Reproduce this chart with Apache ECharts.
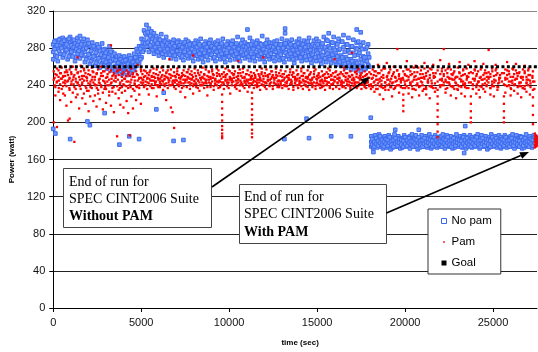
<!DOCTYPE html>
<html>
<head>
<meta charset="utf-8">
<script src="https://cdn.jsdelivr.net/npm/echarts@6/dist/echarts.min.js"></script>
<style>html,body{margin:0;padding:0;background:#fff}#c{width:538px;height:352px}</style>
</head>
<body>
<div id="c"></div>
<script>
// ---------- DATA (time in sec, power in watt) ----------
const xTicks = [0, 5000, 10000, 15000, 20000, 25000];
const yTicks = [0, 40, 80, 120, 160, 200, 240, 280, 320];
const seriesNames = ['No pam', 'Pam', 'Goal'];

// No pam: rows of [time, value, value, ...]
const noPamRun = [
[0,268,276,284,193],[120,272,281,288,188],[260,266,279,286],[400,274,283,290],[540,270,285,291],
[680,276,282,289],[820,268,279,287],[960,273,286,292,182],[1100,271,280,288],[1240,266,277,285],
[1380,274,283,291],[1520,269,281,293],[1660,272,278,287],[1800,265,276,284],[1940,270,282,289,201],
[2080,263,274,283,197],[2220,268,279,286],[2360,261,272,281],[2500,266,277,284],[2640,259,270,280],
[2780,264,275,285],[2920,262,271,279,210],[3060,258,268,277],[3200,263,272,282],[3340,256,266,276],
[3480,260,269,274],[3620,254,263,271],[3760,258,266,272,176],[3900,252,262,270],[4040,257,265,271],
[4180,251,260,268],[4320,255,264,272,185],[4460,253,261,269],[4600,258,266,274],[4740,261,270,279],
[4880,264,274,282,182],[5020,270,281,290],[5160,278,289,299],[5300,282,294,305],[5440,276,288,301],
[5580,280,292,298],[5720,274,285,296],[5860,277,284,293,214],[6000,272,281,290],[6140,275,286,295],
[6280,270,279,288,232],[6420,273,283,292],[6560,276,281,287],[6700,269,278,286],[6840,272,280,289,180],
[6980,268,277,285],[7120,274,282,288],[7260,270,279,286],[7400,267,276,284,181],[7540,273,281,289],
[7680,269,278,287],[7820,271,280,285],[7960,266,275,283],[8100,272,281,288],[8240,268,277,286],
[8380,270,279,290],[8520,265,274,283],[8660,271,280,287],[8800,267,276,285],[8940,273,282,289],
[9080,269,278,284],[9220,266,276,286],[9360,272,280,288],[9500,268,277,283],[9640,270,279,290],
[9780,265,274,282],[9920,271,281,287],[10060,267,276,285],[10200,273,279,288],[10340,268,277,284],
[10480,270,280,292],[10620,266,275,283],[10760,272,281,289],[10900,269,278,286],[11040,271,276,284,300],
[11180,267,279,291],[11320,270,280,287],[11460,266,274,283],[11600,272,282,288],[11740,268,277,285],
[11880,270,279,293],[12020,265,275,284],[12160,271,281,289],[12300,268,277,286],[12440,270,278,285],
[12580,266,276,287],[12720,272,281,288],[12860,267,275,284],[13000,269,279,290],[13140,265,276,285,182],
[13180,301,296],[13280,271,282,288],[13420,268,277,286],[13560,270,280,289],[13700,264,274,283],
[13840,269,278,287],[13980,271,281,290],[14120,266,276,285],[14260,270,279,288],[14400,267,277,286,204],
[14540,272,283,291,183],[14680,264,274,282],[14820,269,279,288],[14960,266,277,290],[15100,271,281,287],
[15240,263,273,284],[15380,268,279,292],[15520,265,276,289],[15660,270,282,296],[15800,264,275,286,185],
[15940,269,280,292],[16080,262,273,285],[16220,267,278,290],[16360,261,272,287],[16500,266,281,294],
[16640,259,270,284],[16780,264,277,291],[16920,257,268,282,185],[17060,262,275,289],[17200,256,266,280],
[17250,300,286],[17340,261,273,287],[17480,255,268,283,297],[17620,260,271,286],[17760,258,266,279],
[17900,262,274,284],[18050,205]
];
const noPamRunB = [
[70,279,287],[210,271,283],[330,277,289],[470,280,286],[610,273,288],[750,278,284],[890,271,290],[1030,276,283],
[1170,281,289],[1310,270,279],[1450,277,287],[1590,273,284],[1730,279,290],[1870,268,280],[2010,273,285],[2150,266,277],
[2290,271,282],[2430,264,275],[2570,269,281],[2710,262,273],[2850,267,278],[2990,265,275],[3130,261,270],[3270,266,276],
[3410,259,268],[3550,257,267],[3690,256,264],[3830,260,268],[3970,254,266],[4110,259,267],[4250,257,263],[4390,260,269],
[4530,256,265],[4670,262,270],[4810,266,276],[4950,268,279],[5090,276,286],[5230,285,296],[5370,286,297],[5510,283,293],
[5650,278,290],[5790,281,288],[5930,276,285],[6070,279,289],[6210,274,284],[6350,277,287],[6490,279,285],[6630,273,283],
[6770,276,285],[6910,272,282],[7050,277,286],[7190,273,283],[7330,271,281],[7470,276,286],[7610,272,283],[7750,275,284],
[7890,270,279],[8030,276,285],[8170,272,281],[8310,274,284],[8450,269,278],[8590,275,284],[8730,271,281],[8870,277,285],
[9010,273,282],[9150,270,280],[9290,276,284],[9430,272,281],[9570,274,285],[9710,269,278],[9850,275,284],[9990,271,280],
[10130,276,284],[10270,272,281],[10410,274,285],[10550,270,279],[10690,276,285],[10830,273,282],[10970,274,281],[11110,271,283],
[11250,274,284],[11390,270,279],[11530,276,285],[11670,272,281],[11810,274,284],[11950,269,279],[12090,275,285],[12230,272,281],
[12370,274,282],[12510,270,281],[12650,276,284],[12790,271,280],[12930,273,284],[13070,269,280],[13210,275,285],[13350,272,281],
[13490,274,284],[13630,268,278],[13770,273,283],[13910,275,285],[14050,270,280],[14190,274,284],[14330,271,281],[14470,276,287],
[14610,268,278],[14750,273,284],[14890,270,282],[15030,275,284],[15170,267,278],[15310,272,285],[15450,269,281],[15590,274,288],
[15730,268,280],[15870,273,286],[16010,266,278],[16150,271,284],[16290,265,279],[16430,270,287],[16570,263,276],[16710,268,284],
[16850,261,275],[16990,266,282],[17130,260,272],[17270,264,279],[17410,259,275],[17550,264,279],[17690,257,270],[17830,266,281],
[17960,260,270]
];
const noPamIdle = [
[18080,174,179,185],[18190,177,182,172],[18200,168],[18300,175,180,186],[18410,173,178,183],[18520,176,181,187],
[18630,174,184,179],[18740,172,177,182],[18850,175,180,185],[18960,178,183,173],[19070,174,179,186],
[19180,176,181,171],[19290,173,178,184],[19400,175,182,187],[19440,192],[19510,177,180,174],[19620,174,179,185],
[19730,176,183,172],[19840,173,178,181],[19950,175,180,186],[20060,174,182,177],[20170,176,179,184],
[20280,172,178,185],[20390,175,181,187],[20500,177,183,174],[20610,174,179,186],[20720,176,180,171],
[20780,192],[20830,173,178,184],[20940,175,182,186],[21050,174,177,181],[21160,176,180,185],[21270,173,179,183],
[21380,175,181,187],[21490,177,184,172],[21600,174,178,182],[21710,176,180,186],[21820,173,179,184],
[21930,175,182,175],[22040,174,177,185],[22150,176,181,187],[22260,172,178,183],[22370,175,180,186],
[22480,177,183,174],[22590,174,179,185],[22700,176,181,172],[22810,173,178,184],[22920,175,182,187],
[23030,174,180,176],[23140,176,179,185],[23250,173,178,183],[23360,175,181,186,167],[23420,196],[23470,177,184,172],
[23580,174,179,182],[23690,176,180,186],[23800,173,178,184],[23910,175,182,175],[24020,174,177,185],
[24130,176,181,187],[24240,172,179,183],[24350,175,180,186],[24460,177,183,174],[24570,174,178,185],
[24680,176,181,171],[24790,173,179,184],[24900,175,182,187],[25010,174,180,176],[25120,176,178,185],
[25230,173,179,183],[25340,175,181,186],[25450,177,184,172],[25560,174,178,182],[25670,176,180,186],
[25780,173,179,184],[25890,175,182,175],[26000,174,177,185],[26110,176,181,187],[26220,172,178,183],
[26330,175,180,186],[26440,177,183,174],[26550,174,179,185],[26660,176,181,172],[26770,173,178,184],
[26880,175,182,187],[26990,174,180,176],[27100,176,179,185],[27210,173,178,183],[27320,175,181,186],
[27430,177,184,180]
];
const noPamIdleB = [
[18135,176,182],[18245,179,174],[18355,177,183],[18465,175,180],[18575,178,185],[18685,176,181],[18795,174,179],
[18905,177,182],[19015,175,181],[19125,178,184],[19235,176,180],[19345,174,181],[19455,177,183],[19565,175,179],
[19675,178,182],[19785,176,181],[19895,174,180],[20005,177,184],[20115,175,181],[20225,178,183],[20335,176,180],
[20445,174,179],[20555,177,182],[20665,175,181],[20775,178,184],[20885,176,180],[20995,174,181],[21105,177,183],
[21215,175,179],[21325,178,182],[21435,176,181],[21545,174,180],[21655,177,184],[21765,175,181],[21875,178,183],
[21985,176,180],[22095,174,179],[22205,177,182],[22315,175,181],[22425,178,184],[22535,176,180],[22645,174,181],
[22755,177,183],[22865,175,179],[22975,178,182],[23085,176,181],[23195,174,180],[23305,177,184],[23415,175,181],
[23525,178,183],[23635,176,180],[23745,174,179],[23855,177,182],[23965,175,181],[24075,178,184],[24185,176,180],
[24295,174,181],[24405,177,183],[24515,175,179],[24625,178,182],[24735,176,181],[24845,174,180],[24955,177,184],
[25065,175,181],[25175,178,183],[25285,176,180],[25395,174,179],[25505,177,182],[25615,175,181],[25725,178,184],
[25835,176,180],[25945,174,181],[26055,177,183],[26165,175,179],[26275,178,182],[26385,176,181],[26495,174,180],
[26605,177,184],[26715,175,181],[26825,178,183],[26935,176,180],[27045,174,179],[27155,177,182],[27265,175,181],
[27375,178,184]
];

// Pam: rows of [time, value, value, ...]
const pamRun = [
[30,246,255,200],[120,238,252,229],[210,244,258,195],[300,233,249,256],[390,241,253,224],[480,236,247,259],
[570,243,250,231],[660,229,245,254],[750,239,256,218],[840,245,251,202],[930,235,248,257,204],[1020,241,254,222],
[1110,232,246,260],[1200,238,251,179],[1290,244,257,227],[1380,230,242,253,270],[1470,240,249,215],[1560,236,255,261],
[1650,243,247,226],[1740,231,250,258],[1830,239,253,220],[1920,245,248,234],[2010,234,256,212],[2100,241,251,228],
[2190,237,246,259],[2280,243,254,223],[2370,229,249,240],[2460,240,252,217],[2550,235,257,231],[2640,242,247,225],
[2730,238,253,260],[2820,232,250,214],[2910,244,255,236],[3000,236,248,221],[3090,240,252,258],[3180,233,246,229],
[3280,242,256,218,283],[3360,237,250,233],[3450,245,253,211],[3540,231,248,259],[3630,239,255,185],[3720,235,251,226],
[3810,243,257,219],[3900,238,249,232],[3990,241,254,216],[4080,234,247,260],[4170,244,256,223],[4260,237,252,210],
[4350,240,250,186],[4440,246,258,228],[4530,236,253,215],[4620,242,249,234],[4710,239,255,224],[4800,245,251,262],
[4890,237,248,230],[4980,243,257,220],
[5070,241,252,246],[5160,238,249,256],[5250,244,255,240],[5340,236,247,253],[5430,242,251,230],[5520,239,256,245],
[5610,245,249,237],[5700,237,253,258],[5790,243,248,241],[5880,240,257,228],[5970,246,251,238],[6060,238,254,244],
[6150,241,249,259],[6240,244,256,235],[6330,239,250,247],[6420,242,253,224],[6510,237,248,256],[6600,245,252,240,268],
[6690,240,257,216],[6780,243,250,211],[6870,238,254,245,194],[6960,246,249,236],[7050,241,255,258],[7140,239,251,243],
[7230,244,247,233],[7320,237,253,250],[7410,242,256,239],[7500,245,250,227],[7590,238,254,246],[7680,243,248,257],
[7770,240,252,236],[7860,246,255,242],[7950,239,249,231,272],[8040,244,253,258],[8130,241,247,238],[8220,237,256,245],
[8310,243,251,234],[8400,246,254,240],[8490,240,248,259],[8580,242,252,237],[8670,245,257,243],[8760,238,250,229],
[8850,243,254,246],[8940,241,249,238],[9030,244,255,257],[9120,239,251,235],[9210,246,247,242],[9300,240,253,258],
[9390,243,256,237],[9480,238,250,244],
[9600,230,222,215,208,202,196,192,188,185,183,243,252],
[9700,241,254,236],[9790,245,249,258],[9880,239,252,243],[9970,243,256,237],[10060,246,248,231],[10150,240,253,245],
[10240,244,251,259],[10330,238,255,240],[10420,242,249,236],[10510,246,253,247,266],[10600,240,257,234],[10690,243,250,241],
[10780,239,254,258],[10870,245,248,237],[10960,241,252,244],[11050,244,256,233],[11140,238,251,239],[11230,242,247,246],
[11300,232,226,220,214,208,203,198,192,188,184,241,250],
[11400,245,253,237],[11490,240,249,244],[11580,243,256,238],[11670,239,252,246],[11760,246,248,235],[11850,241,254,258],
[11940,244,250,240,270],[12030,238,253,243],[12120,242,257,236],[12210,245,249,245],[12300,240,252,239],[12390,243,255,247],
[12480,239,251,236],[12570,246,248,242],[12660,241,254,258],[12750,244,250,238],[12840,238,253,245],[12930,242,256,240],
[13020,245,249,237],[13110,240,252,246],[13200,243,255,239],[13290,239,250,244],[13380,246,248,236],[13470,241,254,257],
[13560,244,251,241],[13650,238,253,235],[13740,242,249,246],[13830,245,256,240],[13920,240,252,237],[14010,243,248,243],
[14100,239,255,258],[14190,246,250,236],[14280,241,253,244],[14370,244,249,239],[14460,238,256,247],[14550,242,251,235],
[14640,245,254,242],[14730,240,248,238],[14820,243,252,259],[14910,239,257,236],[15000,246,250,243],[15090,241,253,240],
[15180,244,249,237],[15270,238,255,246],[15360,242,251,239],[15450,245,248,235],[15540,240,254,244],[15630,243,252,258],
[15720,239,256,237],[15810,246,250,241],[15900,241,253,236],[15990,244,249,245,268],[16080,238,255,239],[16170,242,251,247],
[16260,245,248,236],[16350,240,254,243],[16440,243,252,238],[16530,239,256,259],[16620,246,249,237],[16710,241,253,244],
[16800,244,250,240],[16890,238,255,236],[16980,242,251,246,275],[17070,245,248,239],[17160,240,254,243],[17250,243,252,237],
[17340,239,257,258],[17430,246,250,241],[17520,241,253,236],[17610,244,249,245],[17700,238,255,240],[17790,242,251,237],
[17880,245,248,243],[17970,240,254,239]
];
const pamRunB = [
[75,248,240],[195,251,243],[315,245,237],[435,253,247],[555,239,249],[675,250,242],[795,244,254],[915,237,247],
[1035,252,244],[1155,241,249],[1275,247,236],[1395,254,243],[1515,239,246],[1635,250,241],[1755,245,256],[1875,237,249],
[1995,252,242],[2115,244,238],[2235,249,255],[2355,241,246],[2475,253,237],[2595,246,243],[2715,240,250],[2835,255,245],
[2955,242,238],[3075,249,244],[3195,254,240],[3315,243,247],[3435,238,251],[3555,250,244],[3675,246,256],[3795,241,237],
[3915,252,245],[4035,247,240],[4155,239,250],[4275,254,244],[4395,243,238],[4515,249,252],[4635,245,241],[4755,252,238],
[4875,240,247],[4995,248,255],
[5115,246,243],[5235,250,240],[5355,243,248],[5475,247,254],[5595,241,250],[5715,249,245],[5835,244,252],[5955,248,240],
[6075,242,247],[6195,251,245],[6315,246,241],[6435,249,254],[6555,243,246],[6675,248,251],[6795,241,245],[6915,250,243],
[7035,245,252],[7155,248,240],[7275,242,249],[7395,251,246],[7515,246,243],[7635,249,254],[7755,243,247],[7875,247,251],
[7995,241,245],[8115,250,242],[8235,245,253],[8355,248,240],[8475,243,249],[8595,251,247],[8715,246,242],[8835,249,255],
[8955,242,247],[9075,248,252],[9195,241,245],[9315,250,244],[9435,245,252],[9555,247,240],[9675,243,249],[9795,251,246],
[9915,246,241],[10035,249,255],[10155,243,247],[10275,248,252],[10395,240,245],[10515,250,243],[10635,245,253],[10755,248,241],
[10875,243,249],[10995,252,246],[11115,246,242],[11235,249,254],[11355,243,247],[11475,248,251],[11595,241,246],[11715,250,243],
[11835,245,252],[11955,247,240],[12075,243,250],[12195,251,246],[12315,246,242],[12435,249,255],[12555,243,248],[12675,248,251],
[12795,241,245],[12915,250,244],[13035,245,252],[13155,248,240],[13275,242,249],[13395,251,246],[13515,246,243],[13635,249,254],
[13755,243,247],[13875,247,251],[13995,241,245],[14115,250,243],[14235,245,253],[14355,248,240],[14475,243,249],[14595,252,246],
[14715,246,242],[14835,249,255],[14955,242,247],[15075,248,251],[15195,241,245],[15315,250,244],[15435,245,252],[15555,248,241],
[15675,243,249],[15795,251,246],[15915,246,242],[16035,249,254],[16155,243,247],[16275,248,252],[16395,241,245],[16515,250,243],
[16635,245,253],[16755,247,240],[16875,243,249],[16995,251,246],[17115,246,242],[17235,249,255],[17355,243,248],[17475,248,251],
[17595,241,245],[17715,250,243],[17835,245,252],[17955,248,240]
];
const pamIdle = [
[18060,241,252,236],[18160,238,248,257],[18260,244,255,233],[18360,236,250,246],[18460,242,253,262],[18560,239,247,230],
[18660,245,256,241],[18760,237,251,225],[18860,243,258,238],[18960,240,249,264],[19060,246,253,235],[19160,238,257,244],
[19260,242,250,228],[19360,236,254,260],[19460,244,248,239],[19560,240,256,279],[19660,247,252,232],[19760,238,259,245],
[19900,230,224,218,212,246,255],
[20000,241,251,237],[20100,245,257,266],[20200,237,249,231],[20300,243,255,242],[20400,239,252,227],[20500,246,259,236],
[20600,235,250,261],[20700,242,254,240],[20800,238,247,229],[20900,244,256,248],[21000,240,252,234],[21100,247,258,264],
[21200,236,250,230],[21300,243,255,243],[21400,239,248,226],[21500,245,257,238],[21600,237,253,262],[21700,242,249,233],
[21850,235,228,220,213,206,198,190,184,244,256],
[22000,238,252,267],[22100,245,258,240],[22200,240,250,279],[22300,246,256,232],[22400,237,253,243],[22500,243,248,263],
[22600,239,257,229],[22700,246,251,238],[22800,236,255,246],[22900,242,249,226],[23000,240,259,235],[23100,247,253,265],
[23200,238,250,231],[23300,244,256,241],[23400,240,252,228],[23500,246,258,237],[23600,237,249,262],
[23740,228,220,212,205,200,243,254],
[23850,241,253,236],[23950,245,257,266],[24050,238,250,231],[24150,243,255,244],[24250,239,248,227],[24350,246,259,238],
[24450,236,251,263],[24550,242,256,233],[24650,240,249,245],[24750,247,254,278],[24850,237,252,230],[24950,244,258,241],
[25050,239,250,228],[25150,245,256,262],[25250,238,253,235],[25350,243,248,246],
[25620,228,220,212,205,200,241,253],
[25700,246,257,232],[25800,239,251,265],[25900,244,255,240],[26000,237,249,229],[26100,242,258,245],[26200,240,252,234],
[26300,247,256,263],[26400,238,250,231],[26500,243,254,242],[26600,239,248,227],[26700,246,257,237],[26800,236,253,261],
[26900,242,249,233],[27000,240,256,246],[27100,245,251,230],
[27270,235,227,218,208,198,244,255],
[27380,173,176,179,182,185,188],[27450,174,177,180,183,186],[27490,175,178,181,184]
];
const pamIdleB = [
[18110,247,239],[18220,251,243],[18330,240,255],[18440,246,236],[18550,253,244],[18660,238,249],[18770,248,258],[18880,243,235],
[18990,250,246],[19100,241,254],[19210,247,238],[19320,252,243],[19430,237,249],[19540,245,256],[19650,250,240],[19760,243,247],
[19870,248,237],[19980,252,244],[20090,239,250],[20200,246,257],[20310,251,241],[20420,244,236],[20530,249,254],[20640,240,246],
[20750,247,259],[20860,252,239],[20970,243,248],[21080,249,236],[21190,238,253],[21300,246,244],[21410,251,258],[21520,242,239],
[21630,248,250],[21740,253,237],[21980,240,246],[22090,247,255],[22200,252,243],[22310,244,236],[22420,249,258],[22530,241,247],
[22640,247,252],[22750,253,239],[22860,243,248],[22970,249,236],[23080,239,254],[23190,246,244],[23300,251,257],[23410,242,238],
[23520,248,250],[23630,253,243],[23860,240,247],[23970,247,256],[24080,252,241],[24190,244,235],[24300,249,257],[24410,241,246],
[24520,247,253],[24630,253,239],[24740,243,249],[24850,249,237],[24960,239,255],[25070,246,243],[25180,251,258],[25290,242,238],
[25400,248,251],[25510,253,244],[25700,240,248],[25810,247,256],[25920,252,240],[26030,244,236],[26140,249,257],[26250,241,246],
[26360,247,253],[26470,253,239],[26580,243,249],[26690,249,237],[26800,239,255],[26910,246,243],[27020,251,258],[27130,242,238],
[27240,248,250],[27350,244,236]
];

const goalTime = [0, 27500];
const goalValue = [260, 260];

// ---------- BUILD ----------
function expand(rows) {
  const out = [];
  rows.forEach(r => { for (let i = 1; i < r.length; i++) out.push([r[0], r[i]]); });
  return out;
}
const noPamPts = [].concat(expand(noPamRun), expand(noPamRunB), expand(noPamIdle), expand(noPamIdleB));
const pamPts = [].concat(expand(pamRun), expand(pamRunB), expand(pamIdle), expand(pamIdleB));
const goalPts = goalTime.map((t, i) => [t, goalValue[i]]);

const chart = echarts.init(document.getElementById('c'), null, { renderer: 'canvas' });
const G = { left: 52, top: 11, right: 1, bottom: 44 };

function arrow(x1, y1, x2, y2) {
  const dx = x2 - x1, dy = y2 - y1, L = Math.hypot(dx, dy);
  const ux = dx / L, uy = dy / L, hl = 9, hw = 3.6;
  const bx = x2 - ux * hl, by = y2 - uy * hl;
  return [
    { type: 'line', shape: { x1, y1, x2: bx, y2: by }, style: { stroke: '#000', lineWidth: 1.6 }, z: 100 },
    { type: 'polygon', shape: { points: [[x2, y2], [bx - uy * hw, by + ux * hw], [bx + uy * hw, by - ux * hw]] }, style: { fill: '#000' }, z: 100 }
  ];
}
function box(x, y, w, h, lines, tx, ty, pitch) {
  const els = [{ type: 'rect', shape: { x: x + 0.5, y: y + 0.5, width: w, height: h }, style: { fill: '#fff', stroke: '#444', lineWidth: 1 }, z: 99 }];
  lines.forEach((s, i) => els.push({
    type: 'text', z: 101,
    style: { x: tx, y: ty + i * pitch, text: s.t, fill: '#000', verticalAlign: 'middle',
      font: (s.b ? 'bold ' : '') + '14px "Liberation Serif", "Times New Roman", serif' }
  }));
  return els;
}

const splitColors = ['#000', '#222', '#222', '#222', '#222', '#222', '#222', '#222', '#888'];

chart.setOption({
  animation: false,
  backgroundColor: '#fff',
  grid: G,
  xAxis: {
    type: 'value', min: 0, max: 27500,
    name: 'time (sec)', nameLocation: 'middle', nameGap: 31,
    nameTextStyle: { fontFamily: 'Liberation Sans, Arial', fontWeight: 'bold', fontSize: 8, color: '#000', padding: [0, 0, 0, 10] },
    axisLine: { lineStyle: { color: '#000', width: 1 } },
    axisTick: { show: true, length: 4, inside: false, customValues: xTicks, lineStyle: { color: '#000' } },
    axisLabel: { customValues: xTicks, margin: 9, fontFamily: 'Liberation Sans, Arial', fontSize: 11, color: '#111',
      formatter: v => String(v) },
    splitLine: { show: false }
  },
  yAxis: {
    type: 'value', min: yTicks[0], max: yTicks[yTicks.length - 1], interval: 40,
    name: 'Power (watt)', nameLocation: 'middle', nameGap: 35, nameRotate: 90,
    nameTextStyle: { fontFamily: 'Liberation Sans, Arial', fontWeight: 'bold', fontSize: 8, color: '#000' },
    axisLine: { show: true, lineStyle: { color: '#000', width: 1 } },
    axisTick: { show: true, length: 4, lineStyle: { color: '#000' } },
    axisLabel: { margin: 8, fontFamily: 'Liberation Sans, Arial', fontSize: 11, color: '#111', formatter: v => String(v) },
    splitLine: { show: true, lineStyle: { color: splitColors, width: 1 } }
  },
  legend: {
    orient: 'vertical', left: 428, top: 209,
    padding: [6, 9, 5, 13], itemGap: 9, itemWidth: 5, itemHeight: 5,
    backgroundColor: '#fff', borderColor: '#333', borderWidth: 1,
    textStyle: { fontFamily: 'Liberation Sans, Arial', fontSize: 11.5, color: '#000' },
    data: [
      { name: seriesNames[0], icon: 'rect', itemStyle: { color: '#fff', borderColor: '#3a66f0', borderWidth: 1 } },
      { name: seriesNames[1], icon: 'path://M0,0M6,6M2,2h2v2h-2z', itemStyle: { color: '#f00' } },
      { name: seriesNames[2], icon: 'rect', itemStyle: { color: '#000' } }
    ],
    z: 110
  },
  series: [
    { name: seriesNames[0], type: 'scatter', data: noPamPts, symbol: 'rect', symbolSize: 3.6,
      itemStyle: { color: '#6f97fa', borderColor: '#3d6bef', borderWidth: 1, opacity: 1 }, z: 2 },
    { name: seriesNames[1], type: 'scatter', data: pamPts, symbol: 'rect', symbolSize: 2.3,
      itemStyle: { color: '#ff0000', opacity: 1 }, z: 3 },
    { name: seriesNames[2], type: 'line', data: goalPts, symbol: 'none',
      lineStyle: { color: '#000', width: 3, type: [3, 2.4] }, itemStyle: { color: '#000' }, z: 4 }
  ],
  graphic: [].concat(
    arrow(212, 187, 370, 77),
    arrow(386.5, 213, 529, 152),
    box(63, 168, 148, 59, [{ t: 'End of run for' }, { t: 'SPEC CINT2006 Suite' }, { t: 'Without PAM', b: true }], 69, 182, 17),
    box(239, 184, 147, 59, [{ t: 'End of run for' }, { t: 'SPEC CINT2006 Suite' }, { t: 'With PAM', b: true }], 244, 197, 17.8)
  )
});
</script>
</body>
</html>
